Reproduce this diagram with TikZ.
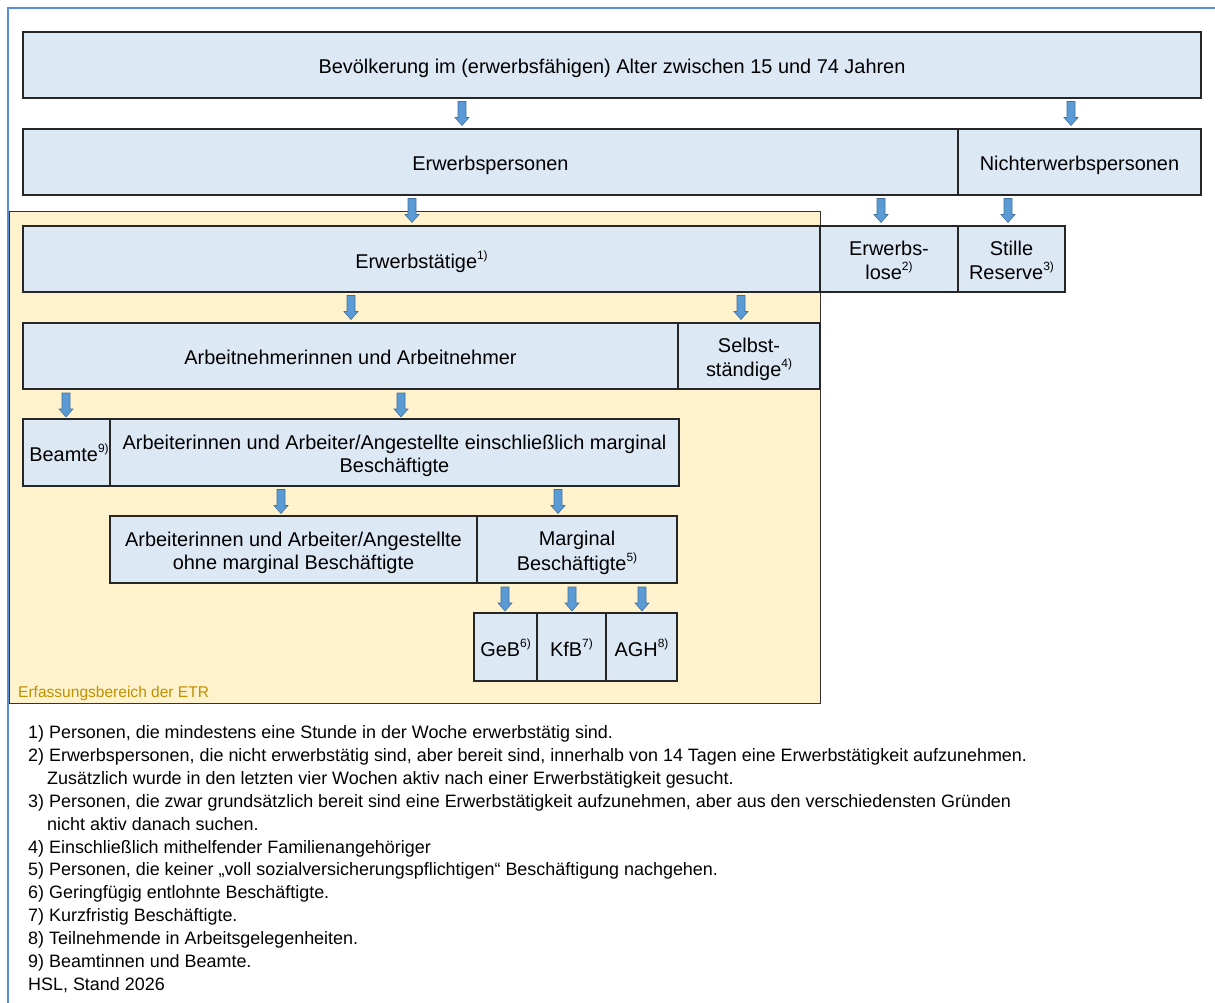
\documentclass[tikz,border=0pt]{standalone}
\usepackage{fontspec}
\setmainfont{Liberation Sans}
\definecolor{boxfill}{RGB}{221,232,245}
\definecolor{etrfill}{RGB}{255,242,204}
\definecolor{etrtext}{RGB}{191,144,0}
\definecolor{arrfill}{RGB}{91,155,213}
\definecolor{arrdraw}{RGB}{65,113,156}
\definecolor{framecol}{RGB}{91,141,210}
\newcommand\fnm[1]{\raisebox{0.45em}{\fontsize{12}{12}\selectfont #1}}
\newcommand\bt[1]{\raisebox{-3.8bp}[\height][\depth]{\begin{tabular}{@{}c@{}}#1\end{tabular}}}
\begin{document}
\begin{tikzpicture}[x=1bp,y=-1bp,
 box/.style={draw=black!85, line width=1.3bp, fill=boxfill, inner sep=0pt, outer sep=0pt, font=\fontsize{20}{23}\selectfont},
 pics/darr/.style={code={
   \coordinate (-c) at (0,0);
   \filldraw[draw=arrdraw, fill=arrfill, line width=0.6bp]
     (-4,-12) -- (4,-12) -- (4,4) -- (7,4) -- (0,12) -- (-7,4) -- (-4,4) -- cycle;}},
 fn/.style={anchor=base west, inner sep=0pt, font=\fontsize{18}{20}\selectfont}]
\useasboundingbox (0,0) rectangle (1215,1003);
\fill[white] (0,0) rectangle (1215,1003);
\draw[framecol, line width=2bp] (8,1010) -- (8,8) -- (1220,8);

% ETR region
\node[draw=black!80, fill=etrfill, line width=0.9bp, minimum width=811bp, minimum height=492bp, inner sep=0pt] (etr) at (414.5,457) {};
\node[anchor=base west, inner sep=0pt, text=etrtext, font=\fontsize{15.6}{17}\selectfont] (etrl) at (18,697) {Erfassungsbereich der ETR};

% boxes
\node[box, minimum width=1178bp, minimum height=66bp] (bev) at (612,65) {\bt{Bevölkerung im (erwerbsfähigen) Alter zwischen 15 und 74 Jahren}};
\node[box, minimum width=935bp, minimum height=66bp] (erwp) at (490.5,162) {\bt{Erwerbspersonen}};
\node[box, minimum width=243bp, minimum height=66bp] (nerwp) at (1079.5,162) {\bt{Nichterwerbspersonen}};
\node[box, minimum width=797bp, minimum height=66bp] (erwt) at (421.5,259) {\bt{Erwerbstätige\fnm{1)}}};
\node[box, minimum width=138bp, minimum height=66bp] (erwl) at (889,259) {\bt{Erwerbs-\\lose\fnm{2)}}};
\node[box, minimum width=107bp, minimum height=66bp] (still) at (1011.5,259) {\bt{Stille\\Reserve\fnm{3)}}};
\node[box, minimum width=655bp, minimum height=66bp] (arbn) at (350.5,356) {\bt{Arbeitnehmerinnen und Arbeitnehmer}};
\node[box, minimum width=142bp, minimum height=66bp] (selb) at (749,356) {\bt{Selbst-\\ständige\fnm{4)}}};
\node[box, minimum width=87bp, minimum height=67bp] (beamte) at (66.5,452.5) {\bt{\hspace*{5bp}Beamte\fnm{9)}}};
\node[box, minimum width=569bp, minimum height=67bp] (arbang) at (394.5,452.5) {\bt{Arbeiterinnen und Arbeiter/Angestellte einschließlich marginal\\Beschäftigte}};
\node[box, minimum width=367bp, minimum height=67bp] (ohne) at (293.5,549.5) {\bt{Arbeiterinnen und Arbeiter/Angestellte\\ohne marginal Beschäftigte}};
\node[box, minimum width=200bp, minimum height=67bp] (marg) at (577,549.5) {\bt{Marginal\\Beschäftigte\fnm{5)}}};
\node[box, minimum width=63bp, minimum height=68bp] (geb) at (505.5,647) {\bt{GeB\fnm{6)}}};
\node[box, minimum width=69bp, minimum height=68bp] (kfb) at (571.5,647) {\bt{KfB\fnm{7)}}};
\node[box, minimum width=71bp, minimum height=68bp] (agh) at (641.5,647) {\bt{AGH\fnm{8)}}};

% block arrows
\pic (a1) at (462,113.5) {darr};
\pic (a2) at (1071,113.5) {darr};
\pic (a3) at (412,210.5) {darr};
\pic (a4) at (881,210.5) {darr};
\pic (a5) at (1008,210.5) {darr};
\pic (a6) at (351,307.5) {darr};
\pic (a7) at (741,307.5) {darr};
\pic (a8) at (66,405) {darr};
\pic (a9) at (401,405) {darr};
\pic (a10) at (281,501.5) {darr};
\pic (a11) at (558,501.5) {darr};
\pic (a12) at (505,599) {darr};
\pic (a13) at (572,599) {darr};
\pic (a14) at (642,599) {darr};

% footnotes
\foreach \t [count=\i] in {
 {1) Personen, die mindestens eine Stunde in der Woche erwerbstätig sind.},
 {2) Erwerbspersonen, die nicht erwerbstätig sind, aber bereit sind, innerhalb von 14 Tagen eine Erwerbstätigkeit aufzunehmen.},
 {\hspace*{19bp}Zusätzlich wurde in den letzten vier Wochen aktiv nach einer Erwerbstätigkeit gesucht.},
 {3) Personen, die zwar grundsätzlich bereit sind eine Erwerbstätigkeit aufzunehmen, aber aus den verschiedensten Gründen},
 {\hspace*{19bp}nicht aktiv danach suchen.},
 {4) Einschließlich mithelfender Familienangehöriger},
 {5) Personen, die keiner „voll sozialversicherungspflichtigen“ Beschäftigung nachgehen.},
 {6) Geringfügig entlohnte Beschäftigte.},
 {7) Kurzfristig Beschäftigte.},
 {8) Teilnehmende in Arbeitsgelegenheiten.},
 {9) Beamtinnen und Beamte.},
 {HSL, Stand 2026}}
 \node[fn] (fn\i) at (28,{738.5+22.9*(\i-1)}) {\t};
\end{tikzpicture}
\end{document}
